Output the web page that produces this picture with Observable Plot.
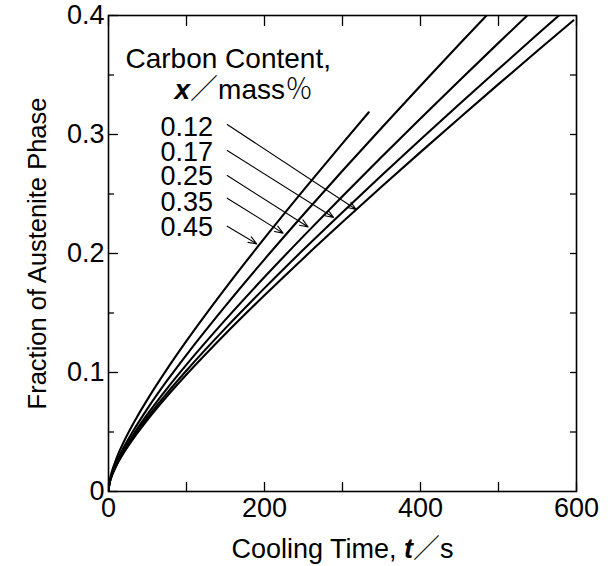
<!DOCTYPE html>
<html><head><meta charset="utf-8">
<script src="https://cdn.jsdelivr.net/npm/d3@7"></script>
<script src="https://cdn.jsdelivr.net/npm/@observablehq/plot@0.6"></script>
<style>body{margin:0;background:#fff}</style>
</head><body><div id="chart"></div>
<script>
// ---- data ----
const carbon = ["0.12", "0.17", "0.25", "0.35", "0.45"];
// [cooling time t (s), fraction of austenite]
const curve012 = [[0,0],[1,0.0058],[2.5,0.0096],[5,0.0143],[10,0.0215],[20,0.0330],[35,0.0474],[50,0.0603],[75,0.0800],[100,0.0983],[150,0.1326],[200,0.1649],[250,0.1961],[300,0.2264],[350,0.2561],[400,0.2852],[450,0.3139],[500,0.3423],[550,0.3704],[596,0.3959]];
const curve017 = [[0,0],[1,0.0060],[2.5,0.0099],[5,0.0147],[10,0.0222],[20,0.0341],[35,0.0490],[50,0.0624],[75,0.0827],[100,0.1017],[150,0.1373],[200,0.1709],[250,0.2033],[300,0.2347],[350,0.2655],[400,0.2958],[450,0.3256],[500,0.3550],[550,0.3842],[600,0.4130]];
const curve025 = [[0,0],[1,0.0062],[2.5,0.0102],[5,0.0151],[10,0.0229],[20,0.0353],[35,0.0510],[50,0.0650],[75,0.0865],[100,0.1066],[150,0.1444],[200,0.1802],[250,0.2146],[300,0.2482],[350,0.2811],[400,0.3135],[450,0.3454],[500,0.3770],[550,0.4082]];
const curve035 = [[0,0],[1,0.0065],[2.5,0.0108],[5,0.0160],[10,0.0243],[20,0.0376],[35,0.0545],[50,0.0697],[75,0.0931],[100,0.1149],[150,0.1560],[200,0.1951],[250,0.2328],[300,0.2695],[350,0.3055],[400,0.3410],[450,0.3760],[500,0.4106]];
const curve045 = [[0,0],[1,0.0074],[2.5,0.0123],[5,0.0182],[10,0.0275],[20,0.0422],[35,0.0608],[50,0.0774],[75,0.1028],[100,0.1265],[150,0.1709],[200,0.2129],[250,0.2533],[300,0.2926],[333.7,0.3187]];
// arrow tips (points on the curves, data units)
const arrowTip = [[317.5,0.2370],[288.5,0.2303],[256,0.2223],[223.8,0.2171],[190,0.2081]];
// arrow tails next to each label (data units)
const arrowTail = [[152.2,0.3084],[152.2,0.2866],[152.2,0.2655],[152.2,0.2465],[152.2,0.2229]];

const xLabelTicks = [0, 200, 400, 600];
const xTicks = [0, 100, 200, 300, 400, 500, 600];
const yLabelTicks = [0, 0.1, 0.2, 0.3, 0.4];
const yMinorTicks = [0.05, 0.15, 0.25, 0.35];
const yAllTicks = [0.05, 0.1, 0.15, 0.2, 0.25, 0.3, 0.35];

// ---- build tables ----
const curves = [curve012, curve017, curve025, curve035, curve045];
const rows = curves.flatMap((c, i) => c.map(([t, f]) => ({carbon: carbon[i], t, f})));
const arrows = carbon.map((c, i) => ({carbon: c, x1: arrowTail[i][0], y1: arrowTail[i][1], x2: arrowTip[i][0], y2: arrowTip[i][1]}));

const FONT = "'Liberation Sans', Arial, Helvetica, 'Noto Sans CJK JP', sans-serif";
const labelBaselines = [120, 145, 169, 195, 220]; // px below the frame top

const chart = Plot.plot({
  width: 610,
  height: 566,
  marginLeft: 108,
  marginRight: 34,
  marginTop: 15,
  marginBottom: 75,
  style: {fontFamily: FONT, fontSize: "27px", color: "#000", background: "#fff"},
  x: {domain: [0, 600]},
  y: {domain: [0, 0.4]},
  marks: [
    // axes: labels
    Plot.axisX(xLabelTicks, {anchor: "bottom", tickSize: 0, tickPadding: 6, label: null, fontSize: 27}),
    Plot.axisY(yLabelTicks, {anchor: "left", tickSize: 0, tickPadding: 4, label: null, fontSize: 27,
      tickFormat: d => d === 0 ? "0" : d.toFixed(1)}),
    // inward ticks
    Plot.axisX(xTicks, {anchor: "bottom", tickSize: -9, tickFormat: () => "", label: null, strokeWidth: 1.3}),
    Plot.axisX(xTicks, {anchor: "top", tickSize: -10, tickFormat: () => "", label: null, strokeWidth: 1.3}),
    Plot.axisY(yLabelTicks, {anchor: "left", tickSize: -10, tickFormat: () => "", label: null, strokeWidth: 1.3}),
    Plot.axisY(yMinorTicks, {anchor: "left", tickSize: -6, tickFormat: () => "", label: null, strokeWidth: 1.3}),
    Plot.axisY(yAllTicks, {anchor: "right", tickSize: -7, tickFormat: () => "", label: null, strokeWidth: 1.3}),
    Plot.frame({stroke: "#000", strokeWidth: 1.6}),
    // curves
    Plot.line(rows, {x: "t", y: "f", z: "carbon", stroke: "#000", strokeWidth: 2.1, curve: "monotone-x", clip: true}),
    // arrows
    Plot.arrow(arrows, {x1: "x1", y1: "y1", x2: "x2", y2: "y2", stroke: "#000", strokeWidth: 1.1, headLength: 12, headAngle: 42}),
    // legend labels
    ...carbon.map((c, i) => Plot.text([c], {frameAnchor: "top-left", dx: 52, dy: labelBaselines[i], textAnchor: "start", lineAnchor: "bottom", fontSize: 27})),
    Plot.text(["Carbon Content,"], {frameAnchor: "top-left", dx: 17, dy: 52, textAnchor: "start", lineAnchor: "bottom", fontSize: 28}),
    Plot.text(["x／mass％"], {frameAnchor: "top-left", dx: 66, dy: 83, textAnchor: "start", lineAnchor: "bottom", fontSize: 28}),
    // axis titles
    Plot.text(["Cooling Time, t／s"], {frameAnchor: "bottom", dy: 66, textAnchor: "middle", lineAnchor: "bottom", fontSize: 27}),
    Plot.text(["Fraction of Austenite Phase"], {frameAnchor: "left", dx: -63, rotate: -90, textAnchor: "middle", lineAnchor: "bottom", fontSize: 25.5})
  ]
});

function setRich(content, parts) {
  const t = Array.from(chart.querySelectorAll("text")).find(e => e.textContent === content);
  if (!t) return;
  t.textContent = "";
  for (const [s, st] of parts) {
    const ts = document.createElementNS("http://www.w3.org/2000/svg", "tspan");
    ts.textContent = s;
    if (st === "bi") { ts.style.fontWeight = "bold"; ts.style.fontStyle = "italic"; }
    if (st === "cjk") { ts.style.fontFamily = "'Noto Sans CJK JP', sans-serif"; ts.style.fontWeight = "300"; }
    t.appendChild(ts);
  }
}
setRich("Cooling Time, t／s", [["Cooling Time, ", ""], ["t", "bi"], ["／", "cjk"], ["s", ""]]);
setRich("x／mass％", [["x", "bi"], ["／", "cjk"], ["mass", ""], ["％", "cjk"]]);

document.getElementById("chart").appendChild(chart);
</script>
</body></html>
